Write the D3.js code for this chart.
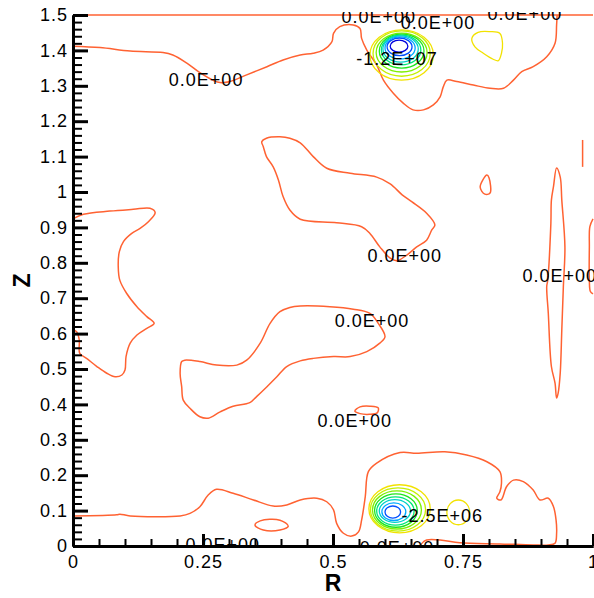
<!DOCTYPE html>
<html>
<head>
<meta charset="utf-8">
<script src="https://cdn.jsdelivr.net/npm/d3@7"></script>
<style>
    body { margin: 0; background: #fff; }
    svg { display: block; font-family: "Liberation Sans", Arial, Helvetica, sans-serif; }
</style>
</head>
<body>
<svg></svg>
<script>

// tick values + labels
const rTicks = [0, 0.25, 0.5, 0.75, 1]
const rTickLabels = ['0', '0.25', '0.5', '0.75', '1']
const zTicks = [0, 0.1, 0.2, 0.3, 0.4, 0.5, 0.6, 0.7, 0.8, 0.9, 1, 1.1, 1.2, 1.3, 1.4, 1.5]
const zTickLabels = ['0', '0.1', '0.2', '0.3', '0.4', '0.5', '0.6', '0.7', '0.8', '0.9', '1', '1.1', '1.2', '1.3', '1.4', '1.5']

// zero level contour lines, points are [R, Z]
const topEdge = [[0, 1.5], [1, 1.5]]
const topWave = [[0, 1.412], [0.052, 1.408], [0.110, 1.398], [0.173, 1.394], [0.192, 1.387], [0.219, 1.364], [0.244, 1.337],
    [0.269, 1.316], [0.283, 1.309], [0.302, 1.312], [0.334, 1.331], [0.373, 1.354], [0.404, 1.373], [0.437, 1.387],
    [0.462, 1.392], [0.481, 1.401], [0.498, 1.425], [0.501, 1.448], [0.513, 1.467], [0.539, 1.472], [0.552, 1.462],
    [0.555, 1.434], [0.565, 1.401], [0.584, 1.359], [0.597, 1.316], [0.616, 1.279], [0.635, 1.251], [0.654, 1.232],
    [0.674, 1.232], [0.693, 1.246], [0.706, 1.269], [0.712, 1.297], [0.719, 1.316], [0.738, 1.312], [0.770, 1.302],
    [0.802, 1.293], [0.828, 1.293], [0.847, 1.316], [0.863, 1.340], [0.885, 1.354], [0.911, 1.382], [0.927, 1.420],
    [0.930, 1.472], [0.931, 1.5]]
const rightSliver = [[0.980, 1.147], [0.980, 1.071]]
const rightTriangle = [[0.796, 1.048], [0.783, 1.014], [0.792, 0.994], [0.802, 0.997], [0.800, 1.040]]
const rightSpindle = [[0.930, 1.068], [0.937, 1.042], [0.940, 0.977], [0.946, 0.845], [0.943, 0.733], [0.940, 0.610],
    [0.937, 0.489], [0.933, 0.432], [0.930, 0.418], [0.927, 0.460], [0.920, 0.507], [0.914, 0.658], [0.911, 0.733],
    [0.913, 0.751], [0.919, 0.912], [0.920, 0.977], [0.924, 1.015]]
const rightEdgeArc = [[1, 0.924], [0.994, 0.902], [0.993, 0.845], [0.993, 0.751], [0.995, 0.719], [1, 0.712]]
const upperBlob = [[0.363, 1.142], [0.372, 1.152], [0.398, 1.156], [0.417, 1.152], [0.437, 1.139], [0.462, 1.100],
    [0.488, 1.067], [0.533, 1.053], [0.584, 1.042], [0.610, 1.023], [0.633, 0.992], [0.652, 0.972], [0.680, 0.940],
    [0.696, 0.907], [0.690, 0.893], [0.680, 0.864], [0.661, 0.845], [0.642, 0.822], [0.623, 0.806], [0.610, 0.813],
    [0.590, 0.845], [0.571, 0.883], [0.555, 0.902], [0.507, 0.913], [0.437, 0.923], [0.417, 0.949], [0.404, 0.987],
    [0.395, 1.034], [0.385, 1.071], [0.372, 1.100], [0.366, 1.128]]
const leftLobe = [[0, 0.924], [0.020, 0.937], [0.071, 0.946], [0.116, 0.951], [0.148, 0.954], [0.158, 0.942],
    [0.145, 0.916], [0.129, 0.897], [0.113, 0.883], [0.097, 0.860], [0.089, 0.831], [0.087, 0.789], [0.090, 0.751],
    [0.103, 0.714], [0.123, 0.676], [0.142, 0.648], [0.156, 0.629], [0.142, 0.615], [0.123, 0.596], [0.110, 0.573],
    [0.102, 0.535], [0.100, 0.497], [0.094, 0.483], [0.081, 0.478], [0.065, 0.488], [0.046, 0.507], [0.026, 0.530],
    [0.013, 0.544], [0.012, 0.582], [0.007, 0.605], [0, 0.610]]
const lowerBlob = [[0.209, 0.521], [0.215, 0.525], [0.244, 0.521], [0.276, 0.511], [0.315, 0.511], [0.334, 0.525],
    [0.360, 0.573], [0.379, 0.629], [0.398, 0.662], [0.417, 0.674], [0.437, 0.678], [0.494, 0.676], [0.539, 0.669],
    [0.571, 0.657], [0.587, 0.629], [0.600, 0.591], [0.590, 0.573], [0.565, 0.549], [0.533, 0.535], [0.501, 0.535],
    [0.462, 0.530], [0.437, 0.523], [0.411, 0.507], [0.392, 0.478], [0.373, 0.450], [0.353, 0.422], [0.340, 0.405],
    [0.308, 0.395], [0.283, 0.379], [0.260, 0.361], [0.244, 0.365], [0.225, 0.389], [0.212, 0.412], [0.209, 0.450],
    [0.206, 0.488]]
const smallArc = [[0.542, 0.381], [0.552, 0.393], [0.571, 0.395], [0.587, 0.390], [0.585, 0.376], [0.570, 0.372], [0.552, 0.374]]
const bottomWave = [[0, 0.085], [0.084, 0.088], [0.090, 0.090], [0.110, 0.085], [0.206, 0.085], [0.225, 0.092],
    [0.244, 0.111], [0.260, 0.144], [0.276, 0.160], [0.308, 0.149], [0.347, 0.130], [0.385, 0.113], [0.411, 0.116],
    [0.437, 0.130], [0.469, 0.135], [0.488, 0.125], [0.501, 0.102], [0.507, 0.064], [0.520, 0.036], [0.536, 0.028],
    [0.549, 0.040], [0.555, 0.073], [0.562, 0.139], [0.568, 0.210], [0.584, 0.234], [0.629, 0.264], [0.661, 0.262],
    [0.715, 0.266], [0.757, 0.257], [0.796, 0.238], [0.821, 0.210], [0.824, 0.177], [0.821, 0.153], [0.815, 0.135],
    [0.823, 0.130], [0.834, 0.168], [0.847, 0.186], [0.866, 0.182], [0.885, 0.158], [0.898, 0.130], [0.914, 0.135],
    [0.924, 0.111], [0.929, 0.073], [0.930, 0.036], [0.927, 0.008], [0.914, 0.003], [0.885, 0.003], [0.821, 0.006],
    [0.744, 0.009], [0.706, 0.017], [0.680, 0.017], [0.674, 0.012], [0.667, 0]]
const bottomOval = [[0.350, 0.059], [0.360, 0.071], [0.398, 0.073], [0.414, 0.056], [0.398, 0.045], [0.366, 0.045]]

// yellow loop at top right
const topRightLoop = [[0.767, 1.434], [0.779, 1.451], [0.802, 1.453], [0.821, 1.448], [0.826, 1.420], [0.824, 1.392],
    [0.818, 1.371], [0.808, 1.375], [0.789, 1.392], [0.773, 1.410]]

// contour level colours, outer (near zero) to inner (most negative)
const levelColors = ['#f2e200', '#c4f000', '#7cf000', '#1ee61e', '#00e678', '#00d2c8', '#00aaff', '#0050ff', '#0000dc']

// rings round the two minima: centre R, centre Z, half width dR, half height dZ, level index
const topRings = [
    { r: 0.632, z: 1.387, dr: 0.061, dz: 0.071, level: 0 },
    { r: 0.632, z: 1.391, dr: 0.055, dz: 0.064, level: 1 },
    { r: 0.632, z: 1.394, dr: 0.049, dz: 0.055, level: 2 },
    { r: 0.632, z: 1.398, dr: 0.043, dz: 0.048, level: 3 },
    { r: 0.631, z: 1.401, dr: 0.038, dz: 0.042, level: 4 },
    { r: 0.630, z: 1.404, dr: 0.034, dz: 0.037, level: 5 },
    { r: 0.629, z: 1.407, dr: 0.029, dz: 0.031, level: 6 },
    { r: 0.628, z: 1.410, dr: 0.024, dz: 0.025, level: 7 },
    { r: 0.627, z: 1.412, dr: 0.017, dz: 0.017, level: 8 }
]
const bottomRings = [
    { r: 0.628, z: 0.105, dr: 0.059, dz: 0.068, level: 0 },
    { r: 0.625, z: 0.103, dr: 0.053, dz: 0.061, level: 1 },
    { r: 0.623, z: 0.102, dr: 0.047, dz: 0.054, level: 2 },
    { r: 0.621, z: 0.100, dr: 0.041, dz: 0.047, level: 3 },
    { r: 0.620, z: 0.099, dr: 0.036, dz: 0.040, level: 4 },
    { r: 0.619, z: 0.099, dr: 0.030, dz: 0.032, level: 5 },
    { r: 0.617, z: 0.097, dr: 0.023, dz: 0.025, level: 6 },
    { r: 0.615, z: 0.096, dr: 0.015, dz: 0.017, level: 7 }
]
const bottomRightRing = [{ r: 0.741, z: 0.095, dr: 0.022, dz: 0.035, level: 0 }]

// contour labels (centre R, baseline Z)
const contourLabels = [
    { text: '0.0E+00', r: 0.256, z: 1.299 },
    { text: '0.0E+00', r: 0.588, z: 1.477 },
    { text: '0.0E+00', r: 0.702, z: 1.460 },
    { text: '0.0E+00', r: 0.869, z: 1.486 },
    { text: '-1.2E+07', r: 0.623, z: 1.359 },
    { text: '0.0E+00', r: 0.638, z: 0.802 },
    { text: '0.0E+00', r: 0.936, z: 0.746 },
    { text: '0.0E+00', r: 0.575, z: 0.619 },
    { text: '0.0E+00', r: 0.542, z: 0.336 },
    { text: '-2.5E+06', r: 0.710, z: 0.068 },
    { text: '0.0E+00', r: 0.288, z: -0.013 },
    { text: '0.0E+00', r: 0.623, z: -0.022 }
]


const renderChart = () => {

    const width = 594
    const height = 598

    //space for the tick labels and axis titles
    const margin = { top: 15, right: 1, bottom: 52, left: 73 }

    const innerWidth = width - margin.left - margin.right
    const innerHeight = height - margin.top - margin.bottom

    const zeroColor = '#ff6232'

    const xScale = d3.scaleLinear()
        .domain([0, 1])
        .range([0, innerWidth])

    const yScale = d3.scaleLinear()
        .domain([0, 1.5])
        .range([innerHeight, 0])

    const svg = d3.select('svg')
        .attr('width', width)
        .attr('height', height)

    //labels get cut at the bottom axis and a bit above the top line
    svg.append('defs').append('clipPath')
        .attr('id', 'clip')
        .append('rect')
        .attr('x', 0)
        .attr('y', -3)
        .attr('width', innerWidth + 10)
        .attr('height', innerHeight + 3)

    const g = svg.append('g')
        .attr('transform', `translate(${margin.left}, ${margin.top})`)

    //smooth drawing of the traced contour points
    const line = d3.line()
        .x(d => xScale(d[0]))
        .y(d => yScale(d[1]))
        .curve(d3.curveCatmullRom.alpha(0.5))

    const loop = d3.line()
        .x(d => xScale(d[0]))
        .y(d => yScale(d[1]))
        .curve(d3.curveCatmullRomClosed.alpha(0.5))

    const plot = g.append('g').attr('clip-path', 'url(#clip)')

    const openLines = [topEdge, topWave, rightSliver, rightEdgeArc, leftLobe, bottomWave]
    const closedLines = [rightTriangle, rightSpindle, upperBlob, lowerBlob, smallArc, bottomOval]

    plot.selectAll('.zero-open')
        .data(openLines)
        .enter()
        .append('path')
            .attr('class', 'zero-open')
            .attr('d', d => line(d))
            .attr('fill', 'none')
            .attr('stroke', zeroColor)
            .attr('stroke-width', 1.5)

    plot.selectAll('.zero-closed')
        .data(closedLines)
        .enter()
        .append('path')
            .attr('class', 'zero-closed')
            .attr('d', d => loop(d))
            .attr('fill', 'none')
            .attr('stroke', zeroColor)
            .attr('stroke-width', 1.5)

    plot.append('path')
        .attr('d', loop(topRightLoop))
        .attr('fill', 'none')
        .attr('stroke', levelColors[0])
        .attr('stroke-width', 1.3)

    //concentric level rings round the minima
    plot.selectAll('.ring')
        .data([...topRings, ...bottomRings, ...bottomRightRing])
        .enter()
        .append('ellipse')
            .attr('class', 'ring')
            .attr('cx', d => xScale(d.r))
            .attr('cy', d => yScale(d.z))
            .attr('rx', d => xScale(d.r + d.dr) - xScale(d.r))
            .attr('ry', d => yScale(d.z) - yScale(d.z + d.dz))
            .attr('fill', 'none')
            .attr('stroke', d => levelColors[d.level])
            .attr('stroke-width', 1.3)

    plot.selectAll('.contour-label')
        .data(contourLabels)
        .enter()
        .append('text')
            .attr('class', 'contour-label')
            .attr('x', d => xScale(d.r))
            .attr('y', d => yScale(d.z))
            .attr('text-anchor', 'middle')
            .attr('font-size', 18)
            .attr('letter-spacing', 1)
            .attr('fill', '#000')
            .text(d => d.text)

    // axes: ticks point inwards, minor ticks as separate axes
    const xAxis = d3.axisBottom(xScale)
        .tickValues(rTicks)
        .tickFormat((d, i) => rTickLabels[i])
        .tickSizeInner(-12)
        .tickSizeOuter(0)
        .tickPadding(9)

    const xMinor = d3.axisBottom(xScale)
        .tickValues(d3.range(0, 1.001, 0.05).filter(v => Math.abs(v * 4 - Math.round(v * 4)) > 1e-6))
        .tickFormat('')
        .tickSizeInner(-7)
        .tickSizeOuter(0)

    const yAxis = d3.axisLeft(yScale)
        .tickValues(zTicks)
        .tickFormat((d, i) => zTickLabels[i])
        .tickSizeInner(-15)
        .tickSizeOuter(0)
        .tickPadding(5)

    const yMinor = d3.axisLeft(yScale)
        .tickValues(d3.range(0, 1.5001, 0.02).filter(v => Math.abs(v * 10 - Math.round(v * 10)) > 1e-6))
        .tickFormat('')
        .tickSizeInner(-9)
        .tickSizeOuter(0)

    const styleAxis = (sel, w) => {
        sel.select('.domain').attr('stroke', '#000').attr('stroke-width', 3)
        sel.selectAll('.tick line').attr('stroke', '#000').attr('stroke-width', w)
        sel.selectAll('.tick text')
            .attr('fill', '#000')
            .attr('font-size', 18)
            .attr('letter-spacing', 1)
            .attr('font-family', '"Liberation Sans", Arial, Helvetica, sans-serif')
    }

    g.append('g').attr('transform', `translate(0, ${innerHeight})`).call(xMinor).call(styleAxis, 2)
    g.append('g').attr('transform', `translate(0, ${innerHeight})`).call(xAxis).call(styleAxis, 3)
    g.append('g').call(yMinor).call(styleAxis, 2)
    g.append('g').call(yAxis).call(styleAxis, 3)

    //axis titles
    g.append('text')
        .attr('x', innerWidth / 2)
        .attr('y', innerHeight + 45)
        .attr('text-anchor', 'middle')
        .attr('font-size', 23)
        .attr('font-weight', 'bold')
        .text('R')

    g.append('text')
        .attr('transform', `translate(${-margin.left + 30}, ${innerHeight / 2}) rotate(-90)`)
        .attr('text-anchor', 'middle')
        .attr('font-size', 23)
        .attr('font-weight', 'bold')
        .text('Z')
}

renderChart()
</script>
</body>
</html>
